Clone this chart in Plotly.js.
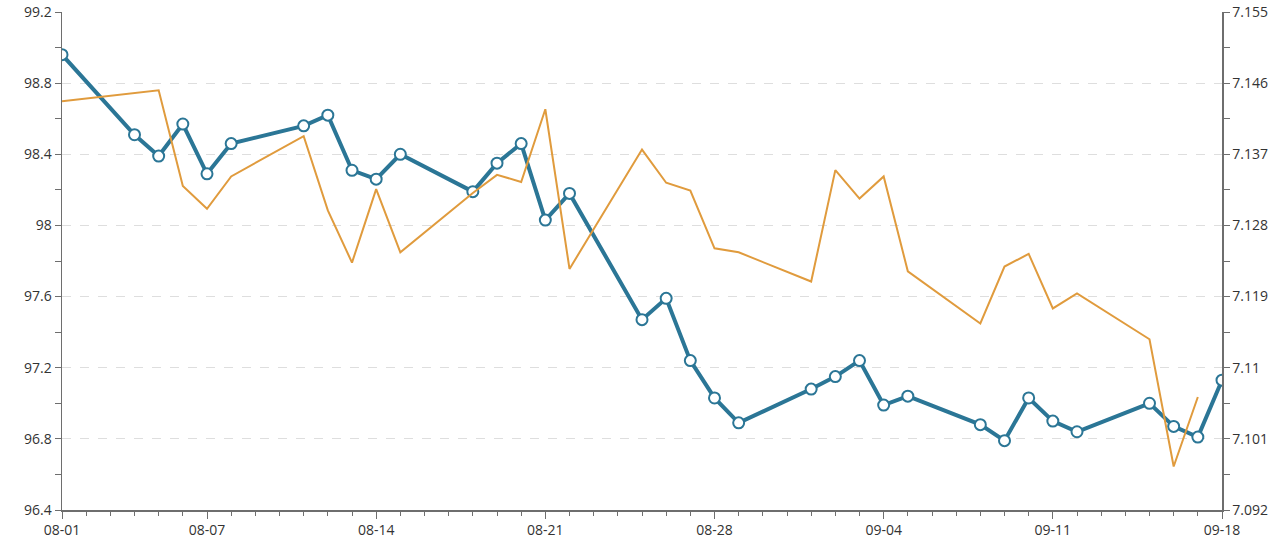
<!DOCTYPE html>
<html>
<head>
<meta charset="utf-8">
<script src="https://cdn.plot.ly/plotly-3.0.1.min.js"></script>
<style>
  html, body { margin: 0; padding: 0; background: #fff; }
  #chart { width: 1280px; height: 544px; }
</style>
</head>
<body>
<div id="chart"></div>
<script>
// blue series (left axis) - trading days
const blueDates = [
    "2025-08-01", "2025-08-04", "2025-08-05", "2025-08-06", "2025-08-07", "2025-08-08",
    "2025-08-11", "2025-08-12", "2025-08-13", "2025-08-14", "2025-08-15",
    "2025-08-18", "2025-08-19", "2025-08-20", "2025-08-21", "2025-08-22",
    "2025-08-25", "2025-08-26", "2025-08-27", "2025-08-28", "2025-08-29",
    "2025-09-01", "2025-09-02", "2025-09-03", "2025-09-04", "2025-09-05",
    "2025-09-08", "2025-09-09", "2025-09-10", "2025-09-11", "2025-09-12",
    "2025-09-15", "2025-09-16", "2025-09-17", "2025-09-18"
];
const blueValues = [
    98.96, 98.51, 98.39, 98.57, 98.29, 98.46,
    98.56, 98.62, 98.31, 98.26, 98.40,
    98.19, 98.35, 98.46, 98.03, 98.18,
    97.47, 97.59, 97.24, 97.03, 96.89,
    97.08, 97.15, 97.24, 96.99, 97.04,
    96.88, 96.79, 97.03, 96.90, 96.84,
    97.00, 96.87, 96.81, 97.13
];

// orange series (right axis)
const orangeDates = [
    "2025-08-01", "2025-08-05", "2025-08-06", "2025-08-07", "2025-08-08",
    "2025-08-11", "2025-08-12", "2025-08-13", "2025-08-14", "2025-08-15",
    "2025-08-18", "2025-08-19", "2025-08-20", "2025-08-21", "2025-08-22",
    "2025-08-25", "2025-08-26", "2025-08-27", "2025-08-28", "2025-08-29",
    "2025-09-01", "2025-09-02", "2025-09-03", "2025-09-04", "2025-09-05",
    "2025-09-08", "2025-09-09", "2025-09-10", "2025-09-11", "2025-09-12",
    "2025-09-15", "2025-09-16", "2025-09-17"
];
const orangeValues = [
    7.1437, 7.1451, 7.1330, 7.1301, 7.1342,
    7.1393, 7.1299, 7.1233, 7.1326, 7.1246,
    7.1321, 7.1344, 7.1335, 7.1427, 7.1225,
    7.1376, 7.1334, 7.1324, 7.1251, 7.1246,
    7.1209, 7.1350, 7.1314, 7.1342, 7.1222,
    7.1156, 7.1228, 7.1244, 7.1175, 7.1194,
    7.1136, 7.0975, 7.1063
];

// axis ticks
const xTickVals = ["2025-08-01", "2025-08-07", "2025-08-14", "2025-08-21", "2025-08-28", "2025-09-04", "2025-09-11", "2025-09-18"];
const xTickText = ["08-01", "08-07", "08-14", "08-21", "08-28", "09-04", "09-11", "09-18"];
const yTickVals = [96.4, 96.8, 97.2, 97.6, 98, 98.4, 98.8, 99.2];
const yTickText = ["96.4", "96.8", "97.2", "97.6", "98", "98.4", "98.8", "99.2"];
const y2TickVals = [7.092, 7.101, 7.110, 7.119, 7.128, 7.137, 7.146, 7.155];
const y2TickText = ["7.092", "7.101", "7.11", "7.119", "7.128", "7.137", "7.146", "7.155"];

const axisColor = "#6e6e6e";
const tickFont = {family: "Open Sans", size: 14, color: "#333"};

const traces = [
    {
        x: orangeDates,
        y: orangeValues,
        yaxis: "y2",
        type: "scatter",
        mode: "lines",
        line: {color: "#e09b3d", width: 2},
        name: "orange"
    },
    {
        x: blueDates,
        y: blueValues,
        type: "scatter",
        mode: "lines+markers",
        line: {color: "#2b7696", width: 4},
        marker: {
            size: 11,
            color: "#ffffff",
            line: {color: "#2b7696", width: 2}
        },
        name: "blue"
    }
];

const layout = {
    width: 1280,
    height: 544,
    margin: {l: 62, r: 58, t: 12, b: 34},
    paper_bgcolor: "#fff",
    plot_bgcolor: "#fff",
    showlegend: false,
    xaxis: {
        type: "date",
        range: ["2025-08-01", "2025-09-18"],
        tickmode: "array",
        tickvals: xTickVals,
        ticktext: xTickText,
        ticks: "outside",
        ticklen: 7,
        tickcolor: axisColor,
        showgrid: false,
        zeroline: false,
        showline: true,
        linecolor: axisColor,
        linewidth: 1.5,
        tickfont: tickFont,
        minor: {
            dtick: 86400000,
            tick0: "2025-08-01",
            ticks: "outside",
            ticklen: 4,
            tickcolor: axisColor,
            showgrid: false
        }
    },
    yaxis: {
        range: [96.4, 99.2],
        tickmode: "array",
        tickvals: yTickVals,
        ticktext: yTickText,
        ticks: "outside",
        ticklen: 6,
        tickcolor: axisColor,
        showgrid: true,
        gridcolor: "#dedede",
        griddash: "dash",
        zeroline: false,
        showline: true,
        linecolor: axisColor,
        linewidth: 1.5,
        tickfont: tickFont,
        minor: {
            dtick: 0.2,
            tick0: 96.4,
            ticks: "outside",
            ticklen: 6,
            tickcolor: axisColor,
            showgrid: false
        }
    },
    yaxis2: {
        overlaying: "y",
        side: "right",
        range: [7.092, 7.155],
        tickmode: "array",
        tickvals: y2TickVals,
        ticktext: y2TickText,
        ticks: "outside",
        ticklen: 6,
        tickcolor: axisColor,
        showgrid: false,
        zeroline: false,
        showline: true,
        linecolor: axisColor,
        linewidth: 1.5,
        tickfont: tickFont,
        minor: {
            dtick: 0.0045,
            tick0: 7.092,
            ticks: "outside",
            ticklen: 6,
            tickcolor: axisColor,
            showgrid: false
        }
    }
};

Plotly.newPlot("chart", traces, layout, {displayModeBar: false, staticPlot: true});
</script>
</body>
</html>
